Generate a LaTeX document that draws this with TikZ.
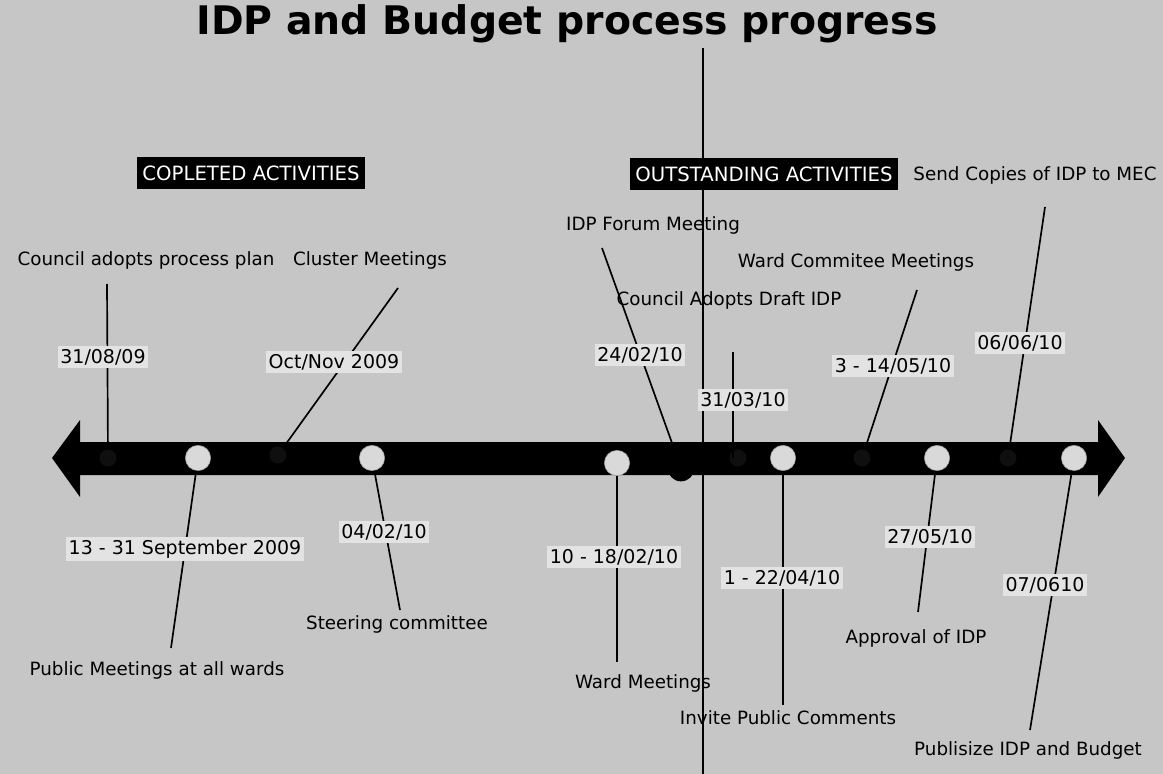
\documentclass[tikz,border=0pt]{standalone}
\usepackage{fontspec}
\setmainfont{DejaVu Sans}
\usetikzlibrary{positioning}
\tikzset{
    headline/.style={font=\bfseries\fontsize{28}{32}\selectfont, inner sep=0pt},
    section/.style={rectangle, fill=black, text=white, font=\fontsize{14}{16}\selectfont, minimum height=23pt, inner xsep=4pt},
    event/.style={font=\fontsize{13}{16}\selectfont, inner sep=1pt},
    date/.style={font=\fontsize{13.5}{16}\selectfont, fill=gray!22, inner sep=2pt},
    globe/.style={circle, draw=gray!80, fill=gray!30, minimum size=18pt, inner sep=0pt},
    spot/.style={circle, fill=gray!12!black, minimum size=12pt, inner sep=0pt},
    pin/.style={circle, fill=black, minimum size=19pt, inner sep=0pt},
    leader/.style={line width=1.2pt}
}

\begin{document}
\begin{tikzpicture}[x=0.025cm, y=-0.025cm]
        % page
        \useasboundingbox (0,0) rectangle (1163,774);
        \fill[gray!45] (0,0) rectangle (1163,774);
        \node (title) [headline] at (567,24) {IDP and Budget process progress};

        % divider between done and to do
        \coordinate (div_top) at (703,48);
        \coordinate (div_bot) at (703,774);
        \draw[line width=0.9pt] (div_top) -- (div_bot);

        % time line
        \fill (52,458) -- (80,420) -- (80,442) -- (1098,442) -- (1098,420) -- (1125,458)
              -- (1098,497) -- (1098,475) -- (80,475) -- (80,497) -- cycle;

        % Completed, above the line
        \node (council_spot) [spot] at (108,458) {};
        \coordinate (council_top) at (107,284);
        \draw[leader] (council_top) -- (council_spot);
        \node (council_date) [date] at (103,357) {31/08/09};
        \node (council_lbl) [event] at (146,260) {Council adopts process plan};

        \node (cluster_spot) [spot] at (278,455) {};
        \coordinate (cluster_top) at (398,288);
        \draw[leader] (cluster_top) -- (cluster_spot);
        \node (cluster_date) [date] at (334,362) {Oct/Nov 2009};
        \node (cluster_lbl) [event] at (370,260) {Cluster Meetings};

        % Completed, below the line
        \node (public_globe) [globe] at (198,458) {};
        \coordinate (public_end) at (171,648);
        \draw[leader] (public_globe) -- (public_end);
        \node (public_date) [date] at (185,549) {13 - 31 September 2009};
        \node (public_lbl) [event] at (157,670) {Public Meetings at all wards};

        \node (steer_globe) [globe] at (372,458) {};
        \coordinate (steer_end) at (400,610);
        \draw[leader] (steer_globe) -- (steer_end);
        \node (steer_date) [date] at (384,532) {04/02/10};
        \node (steer_lbl) [event] at (397,624) {Steering committee};

        \node (wardm_globe) [globe] at (617,463) {};
        \coordinate (wardm_end) at (617,662);
        \draw[leader] (wardm_globe) -- (wardm_end);
        \node (wardm_date) [date] at (614,557) {10 - 18/02/10};
        \node (wardm_lbl) [event] at (643,683) {Ward Meetings};

        % Outstanding, above the line
        \node (forum_pin) [pin] at (681,468) {};
        \coordinate (forum_top) at (602,248);
        \draw[leader] (forum_top) -- (forum_pin);
        \node (forum_date) [date] at (640,355) {24/02/10};
        \node (forum_lbl) [event] at (653,225) {IDP Forum Meeting};

        \node (draft_spot) [spot] at (738,458) {};
        \coordinate (draft_top) at (733,352);
        \draw[leader] (draft_top) -- (draft_top |- draft_spot);
        \node (draft_date) [date] at (743,400) {31/03/10};
        \node (draft_lbl) [event] at (729,300) {Council Adopts Draft IDP};

        \node (wardc_spot) [spot] at (862,458) {};
        \coordinate (wardc_top) at (917,290);
        \draw[leader] (wardc_top) -- (wardc_spot);
        \node (wardc_date) [date] at (893,366) {3 - 14/05/10};
        \node (wardc_lbl) [event] at (856,262) {Ward Commitee Meetings};

        \node (mec_spot) [spot] at (1008,458) {};
        \coordinate (mec_top) at (1045,207);
        \draw[leader] (mec_top) -- (mec_spot);
        \node (mec_date) [date] at (1020,343) {06/06/10};
        \node (mec_lbl) [event] at (1035,175) {Send Copies of IDP to MEC};

        % Outstanding, below the line
        \node (invite_globe) [globe] at (783,458) {};
        \coordinate (invite_end) at (783,705);
        \draw[leader] (invite_globe) -- (invite_end);
        \node (invite_date) [date] at (782,578) {1 - 22/04/10};
        \node (invite_lbl) [event] at (788,718) {Invite Public Comments};

        \node (approv_globe) [globe] at (937,458) {};
        \coordinate (approv_end) at (918,612);
        \draw[leader] (approv_globe) -- (approv_end);
        \node (approv_date) [date] at (930,537) {27/05/10};
        \node (approv_lbl) [event] at (916,638) {Approval of IDP};

        \node (publ_globe) [globe] at (1074,458) {};
        \coordinate (publ_end) at (1030,730);
        \draw[leader] (publ_globe) -- (publ_end);
        \node (publ_date) [date] at (1045,585) {07/0610};
        \node (publ_lbl) [event] at (1028,750) {Publisize IDP and Budget};

        % headings
        \node (done_head) [section] at (251,173) {COPLETED ACTIVITIES};
        \node (todo_head) [section] at (764,174) {OUTSTANDING ACTIVITIES};
    \end{tikzpicture}
\end{document}
